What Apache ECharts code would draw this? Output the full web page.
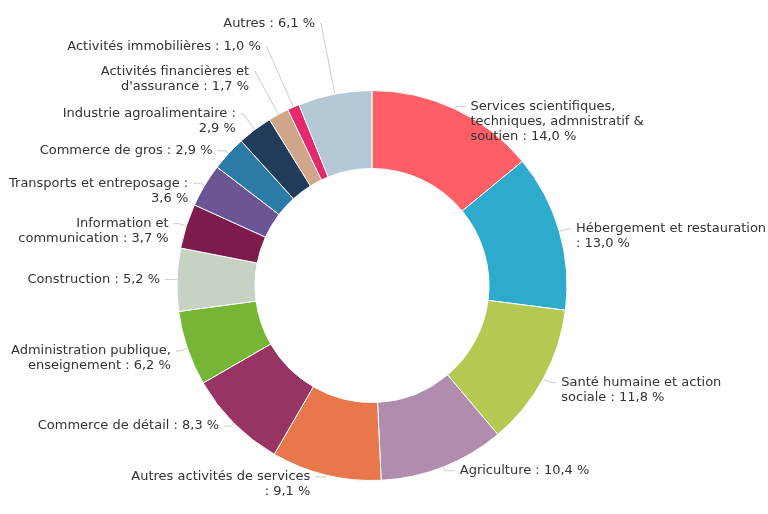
<!DOCTYPE html>
<html>
<head>
<meta charset="utf-8">
<script src="https://cdn.jsdelivr.net/npm/echarts@6/dist/echarts.min.js"></script>
<style>
  html, body { margin: 0; padding: 0; background: #fff; }
  #chart { width: 768px; height: 514px; }
</style>
</head>
<body>
<div id="chart"></div>
<script>
// secteurs d'activité, part en %
const categories = [
  'Services scientifiques, techniques, admnistratif & soutien',
  'Hébergement et restauration',
  'Santé humaine et action sociale',
  'Agriculture',
  'Autres activités de services',
  'Commerce de détail',
  'Administration publique, enseignement',
  'Construction',
  'Information et communication',
  'Transports et entreposage',
  'Commerce de gros',
  'Industrie agroalimentaire',
  "Activités financières et d'assurance",
  'Activités immobilières',
  'Autres'
];
const values = [14.0, 13.0, 11.8, 10.4, 9.1, 8.3, 6.2, 5.2, 3.7, 3.6, 2.9, 2.9, 1.7, 1.0, 6.1];
const colors = [
  '#fe5f67', '#2eaacc', '#b4c852', '#b08dae', '#e8784c',
  '#983464', '#76b536', '#c7d3c2', '#7c1b4c', '#6b5594',
  '#2b7ba6', '#223b5b', '#d0a68a', '#e42a6c', '#b5c8d5'
];
// retours à la ligne des étiquettes (après le n-ième mot de "nom : valeur")
const breakAfter = [[2, 5], [3], [4], [], [4], [], [2], [], [2], [4], [], [3], [3], [], []];
// longueur des traits de rappel [radial, horizontal]
const leaderLen = [
  [3, 9], [8, 4], [8, 6], [4, 10], [2, 10],
  [4, 7], [8, 4], [8, 4], [8, 5], [4, 8],
  [4, 8], [20, 2], [49, 1], [66, 1], [72, 1]
];
const LINE_H = 15;

function fmt(v) {
  return v.toFixed(1).replace('.', ',') + ' %';
}

function wrapLabel(text, breaks) {
  const words = text.split(' ');
  let out = '';
  words.forEach((w, i) => {
    if (i > 0) out += breaks.indexOf(i) >= 0 ? '\n' : ' ';
    out += w;
  });
  return out;
}

const chart = echarts.init(document.getElementById('chart'));
chart.setOption({
  backgroundColor: '#fff',
  animation: false,
  color: colors,
  series: [{
    type: 'pie',
    center: [372, 285.5],
    radius: [117, 195],
    startAngle: 90,
    clockwise: true,
    avoidLabelOverlap: false,
    labelLayout: { hideOverlap: false },
    itemStyle: { borderColor: '#fff', borderWidth: 1 },
    label: {
      show: true,
      position: 'outside',
      color: '#333',
      fontFamily: 'DejaVu Sans, Verdana, sans-serif',
      fontSize: 13,
      lineHeight: LINE_H,
      overflow: 'none',
      formatter: p => wrapLabel(p.name + ' : ' + fmt(p.value), breakAfter[p.dataIndex])
    },
    labelLine: {
      show: true,
      lineStyle: { color: '#cccccc', width: 1 }
    },
    emphasis: { disabled: true },
    data: categories.map((c, i) => ({
      name: c,
      value: values[i],
      // le trait se raccorde à la première ligne du texte
      label: { offset: [0, LINE_H / 2 * breakAfter[i].length] },
      labelLine: { length: leaderLen[i][0], length2: leaderLen[i][1] }
    }))
  }]
});
</script>
</body>
</html>
